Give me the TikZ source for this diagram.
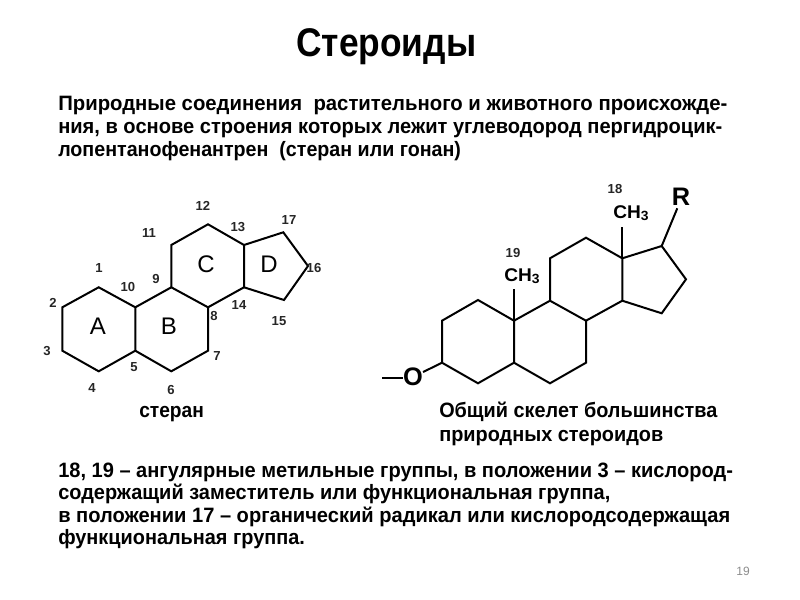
\documentclass[tikz,border=0pt]{standalone}
\usepackage{graphicx}
\usepackage{fontspec}
\setmainfont{Liberation Sans}
\newcommand{\just}[2]{\resizebox{#1pt}{\height}{#2}}
\newcommand{\subthree}{\raisebox{-0.3ex}{\fontsize{10}{10}\selectfont 3}}
\tikzset{
  bond/.style={draw=black,line width=1.5pt,line join=miter},
  num/.style={inner sep=0pt,font=\fontsize{9.8}{10}\selectfont\bfseries,text=black!85},
  ringl/.style={inner sep=0pt,font=\fontsize{18}{20}\selectfont},
  body/.style={inner sep=0pt,anchor=base west,font=\fontsize{15.6}{16}\selectfont\bfseries},
  grp/.style={inner sep=0pt,font=\fontsize{13.8}{14}\selectfont\bfseries},
}
\begin{document}
\begin{tikzpicture}[x=0.75pt,y=-0.75pt]
\useasboundingbox[fill=white] (0,0) rectangle (800,600);
\node[inner sep=0pt,anchor=base west,font=\fontsize{30}{32}\selectfont\bfseries] (title) at (296,56) {\just{135}{Стероиды}};
\node[body] (t1) at (58,110) {\just{501.75}{Природные соединения\ \ растительного и животного происхожде-}};
\node[body] (t2) at (58,133) {\just{498}{ния, в основе строения которых лежит углеводород пергидроцик-}};
\node[body] (t3) at (58,156) {\just{302}{лопентанофенантрен\ \ (стеран или гонан)}};
\node[body] (s1) at (139,417) {\just{48.5}{стеран}};
\node[body] (s2) at (439,417) {\just{208.5}{Общий скелет большинства}};
\node[body] (s3) at (439,441) {\just{168}{природных стероидов}};
\node[body] (b1) at (58,477) {\just{506}{18, 19 – ангулярные метильные группы, в положении 3 – кислород-}};
\node[body] (b2) at (58,499) {\just{414}{содержащий заместитель или функциональная группа,}};
\node[body] (b3) at (58,522) {\just{504}{в положении 17 – органический радикал или кислородсодержащая}};
\node[body] (b4) at (58,544) {\just{185}{функциональная группа.}};
\node[inner sep=0pt,font=\fontsize{9}{10}\selectfont,text=black!45] (page) at (743,571) {19};
% left molecule
\foreach \n/\x/\y in {a1/98.7/287.3,a2/62.3/307.3,a3/62.3/350.7,a4/98.7/371.3,a5/135.3/350.7,a10/135.3/307.3,a9/171.3/287.3,a8/208/307.3,a7/208/350.7,a6/171.3/371.3,a11/171.3/245,a12/208/224.3,a13/244/245,a14/244/287.3,a17/283.3/232.3,a16/308/266,a15/284/300}
  \coordinate (\n) at (\x,\y);
\draw[bond] (a1)--(a2)--(a3)--(a4)--(a5)--(a10)--cycle;
\draw[bond] (a10)--(a9)--(a8)--(a7)--(a6)--(a5);
\draw[bond] (a9)--(a11)--(a12)--(a13)--(a14)--(a8);
\draw[bond] (a13)--(a17)--(a16)--(a15)--(a14);
\foreach \n/\x/\y/\t in {n1/99/268/1,n2/53/303/2,n3/47/351/3,n4/92/388/4,n5/134/367/5,n6/171/390/6,n7/217/356/7,n8/214/316/8,n9/156/279/9,n10/128/287/10,n11/149/233/11,n12/203/206/12,n13/238/227/13,n14/239/305/14,n15/279/321/15,n16/314/268/16,n17/289/220/17}
  \node[num] (\n) at (\x,\y) {\t};
\foreach \n/\x/\y/\t in {ra/98/326/A,rb/169/326/B,rc/206/264/C,rd/269/264/D}
  \node[ringl] (\n) at (\x,\y) {\t};
% right molecule
\foreach \n/\x/\y in {b1/478/300,b2/442/320.7,b3/442/362.7,b4/478/383.3,b5/514/362.7,b10/514/320.7,b9/550/300.7,b8/586/320.7,b7/586/362.7,b6/550/383.3,b11/550/258.3,b12/586/237.7,b13/622.3/258.3,b14/622.3/300.7,b17/661.7/246,b16/686/279.3,b15/661.7/313.3,rend/677.3/208.3,me18/622.3/226.7,me19/514/289.3,oend/382/378}
  \coordinate (\n) at (\x,\y);
\draw[bond] (b1)--(b2)--(b3)--(b4)--(b5)--(b10)--cycle;
\draw[bond] (b10)--(b9)--(b8)--(b7)--(b6)--(b5);
\draw[bond] (b9)--(b11)--(b12)--(b13)--(b14)--(b8);
\draw[bond] (b13)--(b17)--(b16)--(b15)--(b14);
\draw[bond] (b13)--(me18);
\draw[bond] (b10)--(me19);
\draw[bond] (b17)--(rend);
\node[inner sep=0pt,font=\fontsize{19}{20}\selectfont\bfseries] (oxy) at (413,377) {O};
\draw[bond] (b3)--(oxy);
\draw[bond] (oxy.west |- oend)--(oend);
\node[inner sep=0pt,font=\fontsize{19}{20}\selectfont\bfseries] (rr) at (681,197) {R};
\node[grp,anchor=base west] (ch18) at (613,218) {\just{26.5}{CH\subthree}};
\node[grp,anchor=base west] (ch19) at (504,281) {\just{26.5}{CH\subthree}};
\node[num] (l18) at (615,189) {18};
\node[num] (l19) at (513,253) {19};
\end{tikzpicture}
\end{document}
